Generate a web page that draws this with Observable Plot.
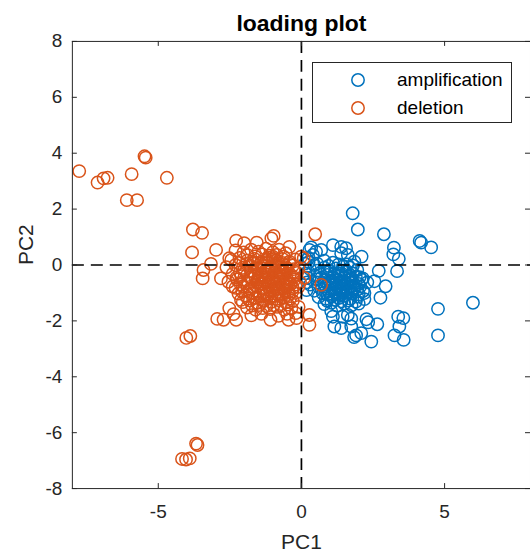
<!DOCTYPE html>
<html>
<head>
<meta charset="utf-8">
<script src="https://cdn.jsdelivr.net/npm/d3@7"></script>
<script src="https://cdn.jsdelivr.net/npm/@observablehq/plot@0.6"></script>
<style>
html,body{margin:0;padding:0;overflow:hidden;background:#fff;}
#wrap{position:relative;width:530px;height:559px;overflow:hidden;font-family:"Liberation Sans",Arial,sans-serif;color:#262626;}
#wrap svg{display:block;}
#legend{position:absolute;left:312px;top:62px;width:200px;height:61px;border:1px solid #262626;background:#fff;box-sizing:border-box;}
.item{position:absolute;left:0;height:22px;width:198px;font-size:19px;color:#000;}
.item svg{position:absolute;left:37px;top:3px;}
.item span{position:absolute;left:84px;top:0;line-height:22px;white-space:nowrap;}
</style>
</head>
<body>
<div id="wrap"><div id="legend"></div></div>
<script>
// ---- text ----
const titleText = "loading plot";
const xLabel = "PC1";
const yLabel = "PC2";
const seriesNames = ["amplification", "deletion"];
const seriesColors = ["#0072BD", "#D95319"];
const xTicks = [-5, 0, 5];
const yTicks = [-8, -6, -4, -2, 0, 2, 4, 6, 8];

// ---- amplification (blue) ----
const ampX = [
  1.79, 1.97, 2.88, 4.13, 4.18, 4.53, 3.23, 3.21, 3.40, 2.70, 3.34, 2.55, 2.94, 2.76, 2.20, 5.99, 4.77, 4.77, 3.38, 3.56,
  3.42, 3.25, 3.57, 2.65, 2.27, 2.33, 2.44, 2.09, 1.91, 1.84, 1.39, 1.10, 1.04, 1.62, 1.74, 2.03, 2.10, 1.85, 1.39, 1.39,
  0.69, 0.34, 0.40, 0.51, 0.28, 1.15, 1.44, 1.74, 2.14, 1.10, 1.56, 1.62,
  0.25, 0.55, 0.80, 1.10, 1.60,
  0.30, 0.55, 0.80, 1.00, 1.20, 1.45, 1.70, 1.95,
  0.20, 0.45, 0.70, 0.90, 1.10, 1.30, 1.50, 1.70, 1.90,
  0.30, 0.55, 0.80, 1.00, 1.20, 1.40, 1.60, 1.80, 2.00, 2.30,
  0.45, 0.70, 0.95, 1.15, 1.35, 1.55, 1.75, 1.95, 2.15,
  0.60, 0.85, 1.05, 1.30, 1.50, 1.70, 1.95, 2.20,
  0.80, 1.05, 1.25, 1.50, 1.75, 2.00,
  1.25, 1.45, 1.65, 1.05, 1.40, 0.90, 1.60, 1.85, 1.15,
  0.12, 0.15, 0.18, 0.25, 0.20,
  0.65, 0.90, 1.30, 1.55, 1.80,
  0.55, 0.80, 1.20, 1.45, 1.75, 2.10,
  0.60, 0.85, 1.05, 1.50, 1.70, 2.05,
  0.75, 1.20, 1.35, 1.75, 2.00,
  0.90, 1.15, 1.40, 1.65, 1.90,
  0.45, 0.95, 1.30, 1.45, 1.80,
  1.12, 1.32, 1.52, 1.72, 1.22, 1.42, 1.62, 1.82, 1.10, 1.35, 1.58, 1.28, 1.48, 1.68
];
const ampY = [
  1.85, 1.27, 1.10, 0.86, 0.80, 0.63, 0.62, 0.38, 0.22, -0.21, -0.22, -0.58, -0.76, -1.17, -1.00, -1.35, -1.57, -2.52, -1.85, -1.90,
  -2.20, -2.52, -2.68, -2.12, -1.94, -2.05, -2.74, -2.44, -2.52, -2.58, -2.26, -1.85, -1.65, -1.79, -1.92, -0.44, 0.30, 0.12, 0.65, 0.42,
  0.54, 0.63, 0.36, 0.48, 0.54, -2.20, -1.85, -2.20, -0.48, 0.71, 0.60, 0.36,
  0.10, 0.05, 0.15, 0.08, 0.02,
  -0.15, -0.20, -0.10, -0.22, -0.12, -0.20, -0.10, -0.18,
  -0.45, -0.38, -0.45, -0.36, -0.46, -0.38, -0.45, -0.36, -0.42,
  -0.70, -0.62, -0.70, -0.60, -0.68, -0.60, -0.70, -0.62, -0.68, -0.62,
  -0.92, -0.86, -0.94, -0.85, -0.93, -0.86, -0.95, -0.88, -0.93,
  -1.15, -1.20, -1.12, -1.18, -1.10, -1.20, -1.14, -1.22,
  -1.40, -1.35, -1.45, -1.38, -1.44, -1.38,
  -0.80, -1.00, -0.55, -0.55, -0.30, -1.05, -0.95, -0.80, -0.30,
  0.05, -0.30, -0.90, 0.25, -0.62,
  -0.28, -0.24, -0.31, -0.26, -0.30,
  -0.52, -0.55, -0.50, -0.54, -0.49, -0.53,
  -0.78, -0.75, -0.80, -0.76, -0.81, -0.77,
  -1.02, -0.99, -1.04, -1.01, -1.05,
  -1.28, -1.25, -1.30, -1.27, -1.31,
  0.00, -0.03, 0.02, -0.05, -0.02,
  -0.62, -0.66, -0.60, -0.64, -0.86, -0.82, -0.88, -0.84, -1.05, -1.08, -1.03, -0.40, -0.44, -0.42
];

// ---- deletion (orange) ----
const delX = [
  -7.76, -7.12, -6.91, -6.77, -5.93, -5.48, -5.44, -4.70, -6.10, -5.74,
  -3.79, -3.47, -3.82, -2.98, -3.68, -3.63, -4.17, -4.03, -3.90, -4.02,
  -3.88, -3.16, -3.45, -3.42, -2.81, -2.40, -2.52, -2.52, -2.72, -2.37,
  -2.28, -2.11, -2.94, 0.28, 0.28, -0.17, 0.48, 0.08, 0.69, 0.10,
  -1.08, -0.45, -2.28, -2.00, -1.56, -0.97, -1.05, -0.42, -0.01,
  -2.30, -2.02, -1.76, -1.50, -1.24, -1.00, -0.78, -0.55,
  -2.45, -2.16, -1.90, -1.64, -1.40, -1.16, -0.90, -0.66, -0.42, -0.22,
  -2.62, -2.30, -2.05, -1.80, -1.55, -1.30, -1.05, -0.80, -0.55, -0.30, -0.10,
  -2.40, -2.15, -1.90, -1.65, -1.40, -1.15, -0.90, -0.65, -0.40, -0.15,
  -2.55, -2.25, -2.00, -1.75, -1.50, -1.25, -1.00, -0.75, -0.50, -0.25, -0.05,
  -2.30, -2.05, -1.80, -1.55, -1.30, -1.05, -0.80, -0.55, -0.30, -0.10,
  -2.20, -1.95, -1.70, -1.45, -1.20, -0.95, -0.70, -0.45, -0.20,
  -2.05, -1.80, -1.55, -1.30, -1.05, -0.80, -0.55, -0.30,
  -1.90, -1.60, -1.35, -1.10, -0.85, -0.60, -0.35, -0.10,
  -1.75, -1.40, -0.80, -0.50, -0.20,
  -1.62, -1.38, -1.12, -0.88, -0.62, -1.50, -1.25, -0.98, -0.72, -1.85, -0.40, -1.70, -1.00, -0.45, -2.10,
  -1.88, -1.62, -1.37, -1.12, -0.87, -0.62,
  -2.17, -1.92, -1.67, -1.42, -1.17, -0.92, -0.67, -0.42,
  -2.00, -1.77, -1.52, -1.27, -1.02, -0.77, -0.52, -0.27,
  -2.27, -1.77, -1.52, -1.27, -1.02, -0.77, -0.52, -0.27,
  -2.12, -1.62, -1.37, -1.12, -0.87, -0.62, -0.37, -0.20,
  -2.07, -1.82, -1.32, -1.07, -0.82, -0.57, -0.32,
  -1.87, -1.62, -1.37, -1.12, -0.87, -0.62, -0.40,
  -1.72, -1.47, -1.22, -0.97, -0.72, -0.47,
  -1.58, -1.33, -1.08, -0.83, -0.58, -1.45, -1.20, -0.95, -0.70, -1.52, -1.27, -1.02, -0.77, -0.52,
  -1.40, -1.15, -0.90, -0.65, -1.30, -1.05, -0.80, -1.20, -0.95
];
const delY = [
  3.36, 2.95, 3.10, 3.12, 3.25, 3.89, 3.84, 3.12, 2.32, 2.32,
  1.27, 1.15, 0.45, 0.54, -6.39, -6.44, -6.94, -6.96, -6.92, -2.61,
  -2.54, 0.04, -0.48, -0.18, -0.48, -0.77, 0.24, -1.55, -1.96, -1.76,
  -1.96, -1.25, -1.93, -1.79, -2.14, -1.90, 1.10, 0.24, -0.71, -0.46,
  -1.96, -1.96, 0.87, 0.78, 0.80, 1.04, 0.95, 0.65, 0.30,
  0.52, 0.45, 0.55, 0.48, 0.58, 0.46, 0.55, 0.42,
  0.18, 0.25, 0.15, 0.22, 0.12, 0.26, 0.16, 0.22, 0.12, 0.20,
  -0.08, 0.00, -0.10, -0.02, -0.12, -0.03, -0.10, 0.00, -0.08, -0.02, -0.12,
  -0.32, -0.26, -0.36, -0.28, -0.34, -0.25, -0.35, -0.27, -0.33, -0.28,
  -0.60, -0.52, -0.58, -0.50, -0.60, -0.52, -0.58, -0.50, -0.60, -0.53, -0.62,
  -0.82, -0.76, -0.86, -0.78, -0.84, -0.75, -0.85, -0.77, -0.83, -0.78,
  -1.02, -1.10, -1.00, -1.08, -1.02, -1.10, -1.03, -1.08, -1.00,
  -1.33, -1.27, -1.35, -1.28, -1.32, -1.26, -1.34, -1.28,
  -1.52, -1.60, -1.54, -1.58, -1.50, -1.60, -1.55, -1.50,
  -1.80, -1.75, -1.82, -1.75, -1.72,
  -0.42, -0.68, -0.44, -0.66, -0.42, -0.95, -0.20, -0.92, -0.18, -0.65, -0.70, 0.05, 0.30, -0.95, -0.40,
  0.35, 0.31, 0.38, 0.33, 0.36, 0.30,
  0.07, 0.04, 0.09, 0.05, 0.08, 0.03, 0.07, 0.05,
  -0.18, -0.21, -0.16, -0.20, -0.17, -0.22, -0.18, -0.15,
  -0.45, -0.43, -0.47, -0.44, -0.46, -0.42, -0.46, -0.44,
  -0.70, -0.72, -0.68, -0.71, -0.69, -0.73, -0.68, -0.70,
  -0.95, -0.93, -0.97, -0.94, -0.96, -0.92, -0.95,
  -1.20, -1.18, -1.22, -1.19, -1.21, -1.17, -1.20,
  -1.45, -1.43, -1.47, -1.44, -1.46, -1.42,
  -0.08, -0.12, -0.06, -0.10, -0.13, -0.38, -0.35, -0.40, -0.36, -0.58, -0.62, -0.56, -0.60, -0.64,
  -0.84, -0.80, -0.86, -0.82, -1.10, -1.12, -1.08, 0.20, 0.22
];

const points = [
  ...ampX.map((x, i) => ({x, y: ampY[i], series: seriesNames[0]})),
  ...delX.map((x, i) => ({x, y: delY[i], series: seriesNames[1]}))
];

const axisColor = "#262626";
const fmt = d => String(d);

const chart = Plot.plot({
  width: 531,
  height: 559,
  marginLeft: 72,
  marginRight: 0,
  marginTop: 41,
  marginBottom: 70,
  x: {domain: [-8, 8]},
  y: {domain: [-8, 8]},
  color: {domain: seriesNames, range: seriesColors},
  style: {fontFamily: '"Liberation Sans", Arial, sans-serif', fontSize: "19px", color: axisColor, background: "transparent"},
  marks: [
    Plot.dot(points, {x: "x", y: "y", stroke: "series", r: 6.2, strokeWidth: 1.5}),
    Plot.ruleX([0], {stroke: "#000", strokeWidth: 1.7, strokeDasharray: "12,7"}),
    Plot.ruleY([0], {stroke: "#000", strokeWidth: 1.7, strokeDasharray: "12,7"}),
    Plot.frame({stroke: axisColor, strokeWidth: 1}),
    Plot.tickX(xTicks, {x: d => d, insetTop: 443, stroke: axisColor}),
    Plot.tickX(xTicks, {x: d => d, insetBottom: 443, stroke: axisColor}),
    Plot.tickY(yTicks, {y: d => d, insetRight: 454, stroke: axisColor}),
    Plot.tickY(yTicks, {y: d => d, insetLeft: 454, stroke: axisColor}),
    Plot.axisX(xTicks, {anchor: "bottom", tickSize: 0, tickPadding: 16, tickFormat: fmt, label: null}),
    Plot.axisY(yTicks, {anchor: "left", tickSize: 0, tickPadding: 10, tickFormat: fmt, label: null}),
    Plot.text([titleText], {text: d => d, frameAnchor: "top", dy: -27, fontWeight: "bold", fontSize: 23, fill: "#000"}),
    Plot.text([xLabel], {text: d => d, frameAnchor: "bottom", dy: 61, fontSize: 21}),
    Plot.text([yLabel], {text: d => d, frameAnchor: "left", dx: -46, rotate: -90, fontSize: 21})
  ]
});

const wrap = document.getElementById("wrap");
wrap.insertBefore(chart, wrap.firstChild);

// legend
const legend = document.getElementById("legend");
seriesNames.forEach((name, i) => {
  const item = document.createElement("div");
  item.className = "item";
  item.style.top = (i === 0 ? 6 : 34) + "px";
  item.innerHTML = `<svg width="16" height="16"><circle cx="8" cy="8" r="6.2" fill="none" stroke="${seriesColors[i]}" stroke-width="1.5"/></svg><span>${name}</span>`;
  legend.appendChild(item);
});
</script>
</body>
</html>
